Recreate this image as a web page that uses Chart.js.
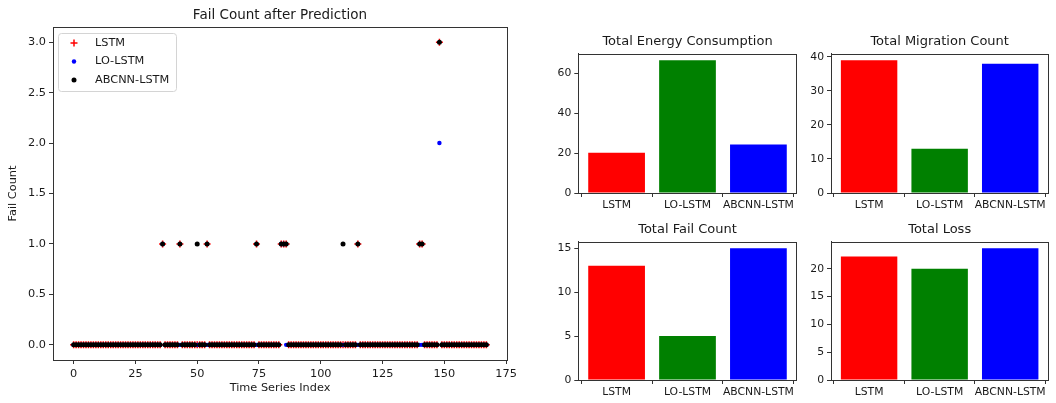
<!DOCTYPE html>
<html>
<head>
<meta charset="utf-8">
<script src="https://cdn.jsdelivr.net/npm/chart.js@4.4.1/dist/chart.umd.min.js"></script>
<style>
  html, body { margin: 0; padding: 0; background: #fff; }
  #wrap { position: relative; width: 1056px; height: 403px; }
  .box { position: absolute; }
</style>
</head>
<body>
<div id="wrap">
  <div class="box" style="left:0;top:0;width:540px;height:403px"><canvas id="scatter"></canvas></div>
  <div class="box" style="left:548px;top:28px;width:252px;height:185px"><canvas id="energy"></canvas></div>
  <div class="box" style="left:800px;top:28px;width:252px;height:185px"><canvas id="migration"></canvas></div>
  <div class="box" style="left:548px;top:216px;width:252px;height:184px"><canvas id="fail"></canvas></div>
  <div class="box" style="left:800px;top:216px;width:252px;height:184px"><canvas id="loss"></canvas></div>
</div>
<script>
// fail count per time step (index 0..167)
const lstmFails = [
  0,0,0,0,0,0,0,0,0,0,0,0,0,0,0,0,0,0,0,0,0,0,0,0,
  0,0,0,0,0,0,0,0,0,0,0,0,1,0,0,0,0,0,0,1,0,0,0,0,
  0,0,0,0,0,0,1,0,0,0,0,0,0,0,0,0,0,0,0,0,0,0,0,0,
  0,0,1,0,0,0,0,0,0,0,0,0,1,1,1,0,0,0,0,0,0,0,0,0,
  0,0,0,0,0,0,0,0,0,0,0,0,0,0,0,0,0,0,0,1,0,0,0,0,
  0,0,0,0,0,0,0,0,0,0,0,0,0,0,0,0,0,0,0,0,1,1,0,0,
  0,0,0,0,3,0,0,0,0,0,0,0,0,0,0,0,0,0,0,0,0,0,0,0
];
const loLstmFails = [
  0,0,0,0,0,0,0,0,0,0,0,0,0,0,0,0,0,0,0,0,0,0,0,0,
  0,0,0,0,0,0,0,0,0,0,0,0,1,0,0,0,0,0,0,0,0,0,0,0,
  0,0,0,0,0,0,0,0,0,0,0,0,0,0,0,0,0,0,0,0,0,0,0,0,
  0,0,0,0,0,0,0,0,0,0,0,0,1,1,0,0,0,0,0,0,0,0,0,0,
  0,0,0,0,0,0,0,0,0,0,0,0,0,0,0,0,0,0,0,0,0,0,0,0,
  0,0,0,0,0,0,0,0,0,0,0,0,0,0,0,0,0,0,0,0,0,0,0,0,
  0,0,0,0,2,0,0,0,0,0,0,0,0,0,0,0,0,0,0,0,0,0,0,0
];
const abcnnFails = [
  0,0,0,0,0,0,0,0,0,0,0,0,0,0,0,0,0,0,0,0,0,0,0,0,
  0,0,0,0,0,0,0,0,0,0,0,0,1,0,0,0,0,0,0,1,0,0,0,0,
  0,0,1,0,0,0,1,0,0,0,0,0,0,0,0,0,0,0,0,0,0,0,0,0,
  0,0,1,0,0,0,0,0,0,0,0,0,1,1,1,0,0,0,0,0,0,0,0,0,
  0,0,0,0,0,0,0,0,0,0,0,0,0,1,0,0,0,0,0,1,0,0,0,0,
  0,0,0,0,0,0,0,0,0,0,0,0,0,0,0,0,0,0,0,0,1,1,0,0,
  0,0,0,0,3,0,0,0,0,0,0,0,0,0,0,0,0,0,0,0,0,0,0,0
];

const models = ["LSTM", "LO-LSTM", "ABCNN-LSTM"];
const energy = [20.3, 66.8, 24.4];
const migrations = [39, 13, 38];
const totalFails = [13, 5, 15];
const totalLoss = [22.2, 20.0, 23.7];

const barColors = ["#ff0000", "#008000", "#0000ff"];
const font = "DejaVu Sans";

Chart.defaults.font.family = font;
Chart.defaults.color = "#1a1a1a";
Chart.defaults.animation = false;

// matplotlib style box around the plot area
const frame = {
  id: "frame",
  afterDraw(chart) {
    const { ctx, chartArea: a } = chart;
    ctx.save();
    ctx.strokeStyle = "#333";
    ctx.lineWidth = 1;
    ctx.strokeRect(Math.round(a.left) + 0.5, Math.round(a.top) + 0.5,
      Math.round(a.right - a.left), Math.round(a.bottom - a.top));
    ctx.restore();
  }
};

// title centred over the axes, like matplotlib's ax.set_title
const axesTitle = {
  id: "axesTitle",
  afterDraw(chart, args, opts) {
    const { ctx, chartArea: a } = chart;
    ctx.save();
    ctx.font = opts.size + "px " + font;
    ctx.fillStyle = "#1a1a1a";
    ctx.textAlign = "center";
    ctx.textBaseline = "middle";
    ctx.fillText(opts.text, (a.left + a.right) / 2, opts.y);
    ctx.restore();
  }
};

// legend inside the axes, upper left
const innerLegend = {
  id: "innerLegend",
  afterDraw(chart) {
    const { ctx, chartArea: a } = chart;
    const x = a.left + 5, y = a.top + 6;
    ctx.save();
    ctx.beginPath();
    ctx.roundRect(x + 0.5, y + 0.5, 118, 58, 3);
    ctx.fillStyle = "rgba(255,255,255,0.85)";
    ctx.fill();
    ctx.strokeStyle = "#d4d4d4";
    ctx.stroke();
    ctx.font = "11.3px " + font;
    ctx.textBaseline = "middle";
    const rows = [y + 10, y + 28.5, y + 47];
    const mx = a.left + 21;
    ctx.strokeStyle = "#ff0000";
    ctx.lineWidth = 1.5;
    ctx.beginPath();
    ctx.moveTo(mx - 3.5, rows[0]); ctx.lineTo(mx + 3.5, rows[0]);
    ctx.moveTo(mx, rows[0] - 3.5); ctx.lineTo(mx, rows[0] + 3.5);
    ctx.stroke();
    ctx.fillStyle = "#0000ff";
    ctx.beginPath(); ctx.arc(mx, rows[1], 2.2, 0, Math.PI * 2); ctx.fill();
    ctx.fillStyle = "#000";
    ctx.beginPath(); ctx.arc(mx, rows[2], 2.5, 0, Math.PI * 2); ctx.fill();
    ctx.fillStyle = "#1a1a1a";
    models.forEach((n, i) => ctx.fillText(n, a.left + 42, rows[i]));
    ctx.restore();
  }
};

const tickGrid = { display: true, drawOnChartArea: false, drawTicks: true, tickLength: 4, color: "#333" };
const axisBorder = { display: true, color: "#333", width: 1 };

const toPoints = (arr) => arr.map((v, i) => ({ x: i, y: v }));

new Chart(document.getElementById("scatter"), {
  type: "scatter",
  data: {
    datasets: [
      { label: "LSTM", data: toPoints(lstmFails), pointStyle: "cross", pointRadius: 3.5,
        borderColor: "#ff0000", backgroundColor: "#ff0000", borderWidth: 1.5, order: 3 },
      { label: "LO-LSTM", data: toPoints(loLstmFails), pointStyle: "circle", pointRadius: 2.2,
        backgroundColor: "#0000ff", borderWidth: 0, order: 2 },
      { label: "ABCNN-LSTM", data: toPoints(abcnnFails), pointStyle: "circle", pointRadius: 2.5,
        backgroundColor: "#000000", borderWidth: 0, order: 1 }
    ]
  },
  options: {
    responsive: true,
    maintainAspectRatio: false,
    layout: { padding: { top: 27, right: 33, left: 0, bottom: 0 } },
    plugins: {
      legend: { display: false },
      tooltip: { enabled: false },
      axesTitle: { text: "Fail Count after Prediction", size: 13.5, y: 15 }
    },
    scales: {
      x: {
        type: "linear", min: -8.35, max: 175.35,
        grid: tickGrid, border: axisBorder,
        ticks: { stepSize: 25, includeBounds: false, font: { size: 11.3 }, padding: 3, maxRotation: 0 },
        title: { display: true, text: "Time Series Index", font: { size: 11.3 }, padding: { top: 2, bottom: 8 } },
        afterFit: (s) => { s.height = 43; }
      },
      y: {
        min: -0.15, max: 3.15,
        grid: tickGrid, border: axisBorder,
        ticks: { stepSize: 0.5, includeBounds: false, font: { size: 11.3 }, padding: 3,
          callback: (v) => v.toFixed(1) },
        title: { display: true, text: "Fail Count", font: { size: 11.3 }, padding: { top: 6, bottom: 2 } },
        afterFit: (s) => { s.width = 53; }
      }
    }
  },
  plugins: [frame, axesTitle, innerLegend]
});

function barChart(id, title, values, yMax, step, yWidth, rightPad) {
  new Chart(document.getElementById(id), {
    type: "bar",
    data: {
      datasets: [{
        data: values.map((v, i) => ({ x: i, y: v })),
        backgroundColor: barColors,
        borderWidth: 0,
        barPercentage: 0.8,
        categoryPercentage: 1
      }]
    },
    options: {
      responsive: true,
      maintainAspectRatio: false,
      layout: { padding: { top: 25.6, right: rightPad, left: 0, bottom: 0 } },
      plugins: {
        legend: { display: false },
        tooltip: { enabled: false },
        axesTitle: { text: title, size: 13, y: 13.8 }
      },
      scales: {
        x: {
          type: "linear", min: -0.54, max: 2.54, offset: false,
          grid: tickGrid, border: axisBorder,
          afterBuildTicks: (s) => { s.ticks = models.map((m, i) => ({ value: i })); },
          ticks: { font: { size: 10.8 }, padding: 2, maxRotation: 0, autoSkip: false,
            callback: (v) => models[v] },
          afterFit: (s) => { s.height = 20; }
        },
        y: {
          min: 0, max: yMax,
          grid: tickGrid, border: axisBorder,
          ticks: { stepSize: step, includeBounds: false, font: { size: 10.8 }, padding: 3 },
          afterFit: (s) => { s.width = yWidth; }
        }
      }
    },
    plugins: [frame, axesTitle]
  });
}

barChart("energy", "Total Energy Consumption", energy, 70.1, 20, 30.3, 3.3);
barChart("migration", "Total Migration Count", migrations, 40.95, 10, 31, 3.7);
barChart("fail", "Total Fail Count", totalFails, 15.75, 5, 30.3, 3.3);
barChart("loss", "Total Loss", totalLoss, 24.9, 5, 31, 3.7);
</script>
</body>
</html>
